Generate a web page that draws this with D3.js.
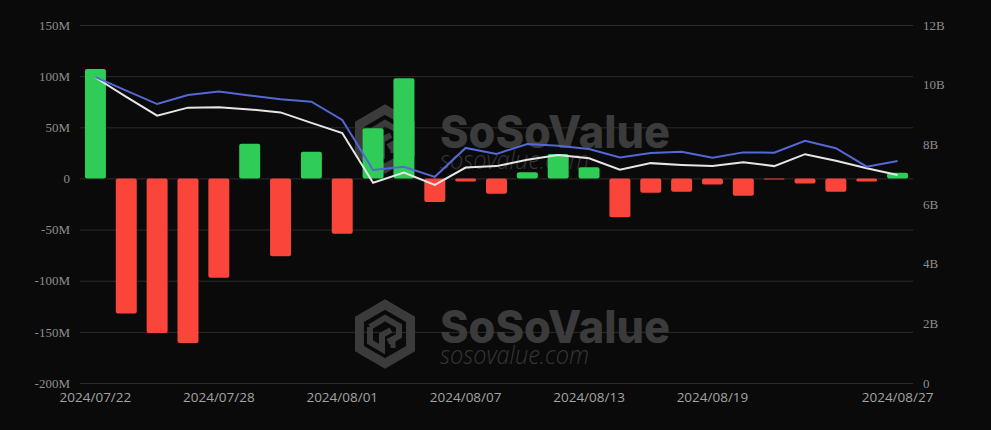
<!DOCTYPE html>
<html>
<head>
<meta charset="utf-8">
<script src="https://cdn.jsdelivr.net/npm/d3@7/dist/d3.min.js"></script>
<style>
  html, body { margin: 0; padding: 0; background: #0a0a0a; }
  svg { display: block; }
</style>
</head>
<body>
<svg id="chart" width="991" height="430"></svg>
<script>
// ---- data ----
const categories = [
  "2024/07/22","2024/07/23","2024/07/24","2024/07/25","2024/07/26",
  "2024/07/29","2024/07/30","2024/07/31","2024/08/01","2024/08/02",
  "2024/08/05","2024/08/06","2024/08/07","2024/08/08","2024/08/09",
  "2024/08/12","2024/08/13","2024/08/14","2024/08/15","2024/08/16",
  "2024/08/19","2024/08/20","2024/08/21","2024/08/22","2024/08/23",
  "2024/08/26","2024/08/27"
];
// daily net inflow (millions USD)
const netInflow = [107, -132, -151, -161, -97, 34, -76, 26, -54, 49,
  98, -23, -3, -15, 6, 24, 11, -38, -14, -13,
  -6, -17, -0.6, -5, -13, -3, 5.5];
// total net assets (billions USD) - blue line
const totalAssets = [10.25, 9.80, 9.35, 9.65, 9.77, 9.64, 9.51, 9.43, 8.82, 7.14,
  7.25, 6.91, 7.88, 7.68, 8.01, 7.95, 7.84, 7.56, 7.71, 7.75,
  7.55, 7.73, 7.72, 8.12, 7.87, 7.25, 7.44];
// value traded / second series (billions USD) - white line
const secondSeries = [10.24, 9.59, 8.96, 9.23, 9.24, 9.17, 9.07, 8.72, 8.38, 6.71,
  7.05, 6.64, 7.22, 7.27, 7.48, 7.64, 7.53, 7.15, 7.37, 7.31,
  7.27, 7.40, 7.27, 7.67, 7.45, 7.20, 6.97];
const leftTicks = [-200, -150, -100, -50, 0, 50, 100, 150];
const leftTickLabels = ["-200M","-150M","-100M","-50M","0","50M","100M","150M"];
const rightTicks = [0, 2, 4, 6, 8, 10, 12];
const rightTickLabels = ["0","2B","4B","6B","8B","10B","12B"];
const xTickIndex = [0, 4, 8, 12, 16, 20, 26];
const xTickLabels = ["2024/07/22","2024/07/28","2024/08/01","2024/08/07","2024/08/13","2024/08/19","2024/08/27"];

// ---- layout ----
const svg = d3.select("#chart");
const L = 80, R = 913, T = 25, B = 383;
const W = R - L;

const x = d3.scaleBand().domain(categories).range([L, R]).paddingInner(0.32).paddingOuter(0.16);
const yL = d3.scaleLinear().domain([-200, 150]).range([B, T]);
const yR = d3.scaleLinear().domain([0, 12]).range([B, T]);

svg.append("rect").attr("width", 991).attr("height", 430).attr("fill", "#0a0a0a");

// grid + left axis
const gL = svg.append("g").attr("transform", `translate(${L},0)`)
  .call(d3.axisLeft(yL).tickValues(leftTicks).tickSize(-W).tickPadding(10)
    .tickFormat((d, i) => leftTickLabels[leftTicks.indexOf(d)]));
gL.select(".domain").remove();
gL.selectAll("line").attr("stroke", "#2c2c2c").attr("stroke-width", 1);
gL.selectAll("text").attr("fill", "#8e8e8e").style("font-family", "'Liberation Serif', serif").style("font-size", "13px");

// right axis
const gR = svg.append("g").attr("transform", `translate(${R},0)`)
  .call(d3.axisRight(yR).tickValues(rightTicks).tickSize(0).tickPadding(10)
    .tickFormat(d => rightTickLabels[rightTicks.indexOf(d)]));
gR.select(".domain").remove();
gR.selectAll("text").attr("fill", "#8e8e8e").style("font-family", "'Liberation Serif', serif").style("font-size", "13px");

// x axis
const gX = svg.append("g").attr("transform", `translate(0,${B})`)
  .call(d3.axisBottom(x).tickValues(xTickIndex.map(i => categories[i])).tickSize(0).tickPadding(9)
    .tickFormat(d => xTickLabels[xTickIndex.indexOf(categories.indexOf(d))]));
gX.select(".domain").remove();
gX.selectAll("text").attr("fill", "#a3a3a3").style("font-family", "'Open Sans', sans-serif").style("font-size", "13.5px");

// watermarks
function watermark(cx, cy, tx, ty) {
  const g = svg.append("g").attr("fill", "none").attr("stroke", "#3b3b3b");
  const r = 29.5;
  const hex = d3.range(6).map(k => {
    const a = Math.PI / 180 * (60 * k - 90);
    return [cx + r * Math.cos(a), cy + r * Math.sin(a)];
  });
  g.append("path").attr("d", d3.line()(hex) + "Z").attr("stroke-width", 9).attr("stroke-linejoin", "miter");
  // inner cube / S shape
  g.append("path").attr("stroke-width", 6).attr("stroke-linejoin", "miter")
    .attr("d", `M${cx-15},${cy-7} L${cx},${cy-16} L${cx+14},${cy-8} L${cx+14},${cy+2} L${cx+3},${cy+8}`);
  g.append("path").attr("stroke-width", 6).attr("stroke-linejoin", "miter")
    .attr("d", `M${cx-15},${cy-7} L${cx-15},${cy+8} L${cx-3},${cy+15} L${cx-3},${cy+1} L${cx+6},${cy-4}`);
  g.append("path").attr("stroke-width", 5)
    .attr("d", `M${cx+8},${cy+6} L${cx+8},${cy+14}`);
  svg.append("text").attr("x", tx).attr("y", ty)
    .attr("fill", "#3b3b3b").attr("textLength", 230).attr("lengthAdjust", "spacingAndGlyphs")
    .style("font-family", "Inter, Lato, sans-serif").style("font-weight", 800).style("font-size", "45px")
    .text("SoSoValue");
  svg.append("text").attr("x", tx).attr("y", ty + 21)
    .attr("fill", "#363636").attr("textLength", 149).attr("lengthAdjust", "spacingAndGlyphs")
    .style("font-family", "'Open Sans', sans-serif").style("font-style", "italic").style("font-weight", 300).style("font-size", "25px")
    .text("sosovalue.com");
}
watermark(385, 139, 440, 148);
watermark(385, 334, 440, 343);

// bars
svg.append("g").selectAll("rect").data(netInflow).join("rect")
  .attr("x", (d, i) => x(categories[i]))
  .attr("width", x.bandwidth())
  .attr("y", d => d >= 0 ? yL(d) : yL(0))
  .attr("height", d => Math.max(1, Math.abs(yL(d) - yL(0))))
  .attr("rx", 2)
  .attr("fill", d => d >= 0 ? "#2fcc58" : "#fa463a");

// lines
const cx = (d, i) => x(categories[i]) + x.bandwidth() / 2;
svg.append("path").datum(secondSeries)
  .attr("fill", "none").attr("stroke", "#e6e6e6").attr("stroke-width", 2)
  .attr("d", d3.line().x(cx).y(d => yR(d)));
svg.append("path").datum(totalAssets)
  .attr("fill", "none").attr("stroke", "#5468d6").attr("stroke-width", 2)
  .attr("d", d3.line().x(cx).y(d => yR(d)));
</script>
</body>
</html>
